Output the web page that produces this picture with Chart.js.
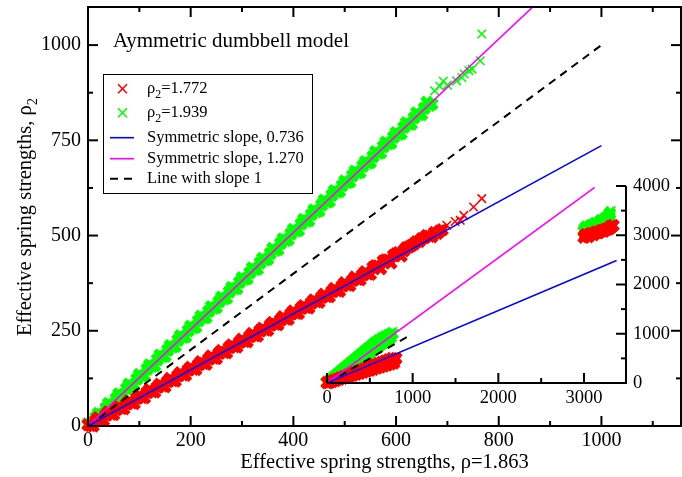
<!DOCTYPE html>
<html lang="en">

<head>
    <meta charset="UTF-8">
    <title>Aymmetric dumbbell model</title>
    <script src="https://cdn.jsdelivr.net/npm/chart.js@4"></script>
    <style>
        body {
            margin: 0;
            background: #fff;
        }

        #wrap {
            position: relative;
            width: 682px;
            height: 477px;
        }

        #wrap canvas {
            position: absolute;
            left: 0;
            top: 0;
        }
    </style>
</head>

<body>
    <div id="wrap">
        <canvas id="mainChart" width="682" height="477"></canvas>
        <canvas id="insetChart" width="682" height="477"></canvas>
    </div>

    <script>
        // ---- main panel: rho2 = 1.772 (red), band edges + outliers ----
        const redX = [0, 10, 20, 30, 40, 50, 60, 70, 80, 90, 100, 110, 120, 130, 140, 150, 160, 170, 180, 190,
            200, 210, 220, 230, 240, 250, 260, 270, 280, 290, 300, 310, 320, 330, 340, 350, 360, 370, 380, 390,
            400, 410, 420, 430, 440, 450, 460, 470, 480, 490, 500, 510, 520, 530, 540, 550, 560, 570, 580, 590,
            600, 610, 620, 630, 640, 650, 660, 670, 680, 690, 699, 715, 725, 732, 751, 767];
        const redY = [3, 0, 22, 15, 37, 30, 51, 45, 66, 59, 81, 74, 96, 89, 110, 103, 125, 118, 140, 133,
            154, 148, 169, 162, 184, 177, 198, 192, 213, 207, 228, 221, 243, 236, 257, 251, 272, 266, 287, 280,
            302, 295, 316, 310, 331, 325, 346, 339, 361, 354, 376, 369, 391, 384, 405, 398, 421, 413, 436, 428,
            452, 446, 468, 474, 484, 492, 500, 497, 505, 515, 527, 537, 540, 553, 575, 597];
        // band centre
        const redMidX = [5, 15, 25, 35, 45, 55, 65, 75, 85, 95, 105, 115, 125, 135, 145, 155, 165, 175, 185, 195,
            205, 215, 225, 235, 245, 255, 265, 275, 285, 295, 305, 315, 325, 335, 345, 355, 365, 375, 385, 395,
            405, 415, 425, 435, 445, 455, 465, 475, 485, 495, 505, 515, 525, 535, 545, 555, 565, 575, 585, 595,
            605, 615, 625, 635, 645, 655, 665, 675, 685];
        const redMidY = [1, 14, 16, 29, 31, 43, 46, 58, 60, 73, 75, 88, 90, 102, 105, 117, 119, 132, 134, 147,
            149, 161, 164, 176, 178, 191, 193, 206, 208, 220, 222, 235, 237, 250, 252, 265, 267, 279, 281, 294,
            296, 309, 311, 323, 326, 338, 340, 353, 355, 368, 370, 382, 385, 397, 399, 416, 420, 433, 436, 448,
            455, 460, 470, 478, 484, 494, 498, 508, 512];

        // ---- main panel: rho2 = 1.939 (green) ----
        const greenX = [0, 10, 20, 30, 40, 50, 60, 70, 80, 90, 100, 110, 120, 130, 140, 150, 160, 170, 180, 190,
            200, 210, 220, 230, 240, 250, 260, 270, 280, 290, 300, 310, 320, 330, 340, 350, 360, 370, 380, 390,
            400, 410, 420, 430, 440, 450, 460, 470, 480, 490, 500, 510, 520, 530, 540, 550, 560, 570, 580, 590,
            600, 610, 620, 630, 640, 650, 660, 670, 675, 685, 692, 700, 718, 728, 733, 742, 748, 764, 767];
        const greenY = [6, 8, 33, 31, 59, 56, 84, 82, 110, 107, 135, 132, 160, 158, 186, 183, 211, 209, 237, 234,
            262, 260, 288, 285, 313, 311, 338, 336, 364, 361, 389, 387, 415, 412, 440, 438, 466, 463, 491, 489,
            516, 514, 542, 539, 567, 565, 593, 590, 618, 616, 643, 641, 669, 666, 694, 692, 720, 717, 745, 743,
            770, 768, 796, 793, 822, 818, 850, 845, 880, 892, 905, 895, 906, 915, 924, 933, 937, 959, 1029];
        const greenMidX = [5, 15, 25, 35, 45, 55, 65, 75, 85, 95, 105, 115, 125, 135, 145, 155, 165, 175, 185, 195,
            205, 215, 225, 235, 245, 255, 265, 275, 285, 295, 305, 315, 325, 335, 345, 355, 365, 375, 385, 395,
            405, 415, 425, 435, 445, 455, 465, 475, 485, 495, 505, 515, 525, 535, 545, 555, 565, 575, 585, 595,
            605, 615, 625, 635, 645, 655, 665];
        const greenMidY = [4, 22, 30, 47, 55, 72, 80, 98, 106, 123, 131, 149, 157, 174, 182, 199, 207, 225, 233, 250,
            258, 276, 284, 301, 309, 326, 334, 352, 360, 377, 385, 402, 411, 428, 436, 453, 461, 479, 487, 504,
            512, 530, 538, 555, 563, 580, 588, 606, 614, 631, 639, 657, 665, 682, 690, 707, 716, 733, 741, 758,
            766, 784, 792, 809, 817, 834, 842];

        // reference lines (end points)
        const blueX = [0, 1000], blueY = [0, 736];
        const magentaX = [0, 1000], magentaY = [0, 1270];
        const unitX = [0, 1000], unitY = [0, 1000];

        // ---- inset panel ----
        const insetRedX = [0, 20, 40, 60, 80, 100, 120, 140, 160, 180, 200, 220, 240, 260, 280, 300, 320, 340, 360, 380,
            400, 420, 440, 460, 480, 500, 520, 540, 560, 580, 600, 620, 640, 660, 680, 700, 720, 740, 760, 780, 790, 805,
            3000, 3010, 3020, 3035, 3050, 3050, 3065, 3080, 3095, 3110, 3125, 3140, 3155, 3170, 3185, 3200, 3215,
            3230, 3245, 3260, 3275, 3290, 3305, 3310, 3320, 3330, 3340];
        const insetRedY = [5, 10, 26, 31, 53, 52, 79, 73, 106, 94, 132, 114, 158, 135, 185, 156, 211, 177, 238, 198,
            264, 218, 290, 239, 317, 260, 343, 281, 370, 302, 396, 322, 422, 343, 449, 364, 475, 385, 500, 406, 470, 500,
            2960, 2990, 3010, 3000, 2970, 2990, 3020, 3030, 3030, 3010, 3045, 3060, 3060, 3050, 3075, 3090, 3095,
            3080, 3110, 3120, 3125, 3130, 3150, 3180, 3170, 3185, 3200];
        const insetGreenX = [0, 20, 40, 60, 80, 100, 120, 140, 160, 180, 200, 220, 240, 260, 280, 300, 320, 340, 360, 380,
            400, 420, 440, 460, 480, 500, 520, 540, 560, 580, 600, 620, 640, 660, 680, 700, 720, 740, 750, 786, 770,
            3000, 3005, 3010, 3025, 3040, 3050, 3060, 3075, 3090, 3100, 3110, 3125, 3140, 3155, 3170, 3185, 3200,
            3215, 3220, 3235, 3250, 3265, 3270, 3285, 3290, 3300, 3315];
        const insetGreenY = [20, 25, 58, 75, 116, 125, 174, 175, 232, 225, 290, 275, 348, 325, 406, 375, 464, 425, 522, 475,
            580, 525, 638, 575, 696, 625, 754, 675, 812, 725, 860, 775, 900, 825, 940, 875, 970, 925, 990, 1010, 1045,
            3070, 3100, 3130, 3170, 3150, 3120, 3110, 3190, 3200, 3150, 3160, 3230, 3240, 3190, 3210, 3270, 3300,
            3230, 3260, 3310, 3340, 3280, 3310, 3350, 3390, 3440, 3500];
        const insetBlueX = [0, 3380], insetBlueY = [0, 2488];
        const insetMagentaX = [0, 3125], insetMagentaY = [0, 3970];
        const insetUnitX = [0, 960], insetUnitY = [0, 960];

        // ticks
        const mainXTicks = [0, 200, 400, 600, 800, 1000];
        const mainXMinor = [100, 300, 500, 700, 900, 1100];
        const mainYTicks = [0, 250, 500, 750, 1000];
        const mainYMinor = [125, 375, 625, 875];
        const insetXTicks = [0, 1000, 2000, 3000];
        const insetXMinor = [500, 1500, 2500];
        const insetYTicks = [0, 1000, 2000, 3000, 4000];
        const insetYMinor = [500, 1500, 2500, 3500];

        const serif = "'Liberation Serif', 'DejaVu Serif', serif";
        const toPts = (xs, ys) => xs.map((x, i) => ({ x: x, y: ys[i] }));

        // text with "_2" style subscripts
        function drawRich(ctx, text, x, y, size, align) {
            const segs = [];
            text.split('_').forEach((part, i) => {
                if (i === 0) { segs.push({ t: part, sub: false }); return; }
                segs.push({ t: part[0], sub: true });
                segs.push({ t: part.slice(1), sub: false });
            });
            let total = 0;
            segs.forEach(s => {
                ctx.font = (s.sub ? size * 0.72 : size) + 'px ' + serif;
                s.w = ctx.measureText(s.t).width;
                total += s.w;
            });
            let cx = align === 'center' ? x - total / 2 : x;
            ctx.textAlign = 'left';
            ctx.textBaseline = 'alphabetic';
            segs.forEach(s => {
                ctx.font = (s.sub ? size * 0.72 : size) + 'px ' + serif;
                ctx.fillText(s.t, cx, s.sub ? y + size * 0.3 : y);
                cx += s.w;
            });
        }

        function line(ctx, x1, y1, x2, y2) {
            ctx.beginPath();
            ctx.moveTo(x1, y1);
            ctx.lineTo(x2, y2);
            ctx.stroke();
        }

        const mainDecor = {
            id: 'mainDecor',
            afterDraw(chart) {
                const { ctx, chartArea: a, scales: { x, y } } = chart;
                ctx.save();
                ctx.strokeStyle = '#000';
                ctx.fillStyle = '#000';
                ctx.lineWidth = 2;
                ctx.strokeRect(a.left, a.top, a.right - a.left, a.bottom - a.top);

                [[mainXTicks, 10], [mainXMinor, 5]].forEach(([vals, len]) => vals.forEach(v => {
                    const px = x.getPixelForValue(v);
                    line(ctx, px, a.bottom, px, a.bottom - len);
                    line(ctx, px, a.top, px, a.top + len);
                }));
                [[mainYTicks, 10], [mainYMinor, 5]].forEach(([vals, len]) => vals.forEach(v => {
                    const py = y.getPixelForValue(v);
                    line(ctx, a.left, py, a.left + len, py);
                    line(ctx, a.right, py, a.right - len, py);
                }));

                // annotation
                ctx.font = '21px ' + serif;
                ctx.textAlign = 'left';
                ctx.textBaseline = 'alphabetic';
                ctx.fillText('Aymmetric dumbbell model', 113, 47);

                // y axis title
                ctx.save();
                ctx.translate(31, 217);
                ctx.rotate(-Math.PI / 2);
                drawRich(ctx, 'Effective spring strengths, ρ_2', 0, 0, 20.5, 'center');
                ctx.restore();

                // legend
                const box = { l: 103, t: 74, r: 312, b: 193 };
                const rows = [92.7, 116.7, 141.7, 162.7, 182.7];
                ctx.fillStyle = '#fff';
                ctx.fillRect(box.l, box.t, box.r - box.l, box.b - box.t);
                ctx.lineWidth = 1;
                ctx.strokeStyle = '#000';
                ctx.strokeRect(box.l + 0.5, box.t + 0.5, box.r - box.l, box.b - box.t);
                chart.data.datasets.forEach((ds, i) => {
                    const by = rows[i];
                    const my = by - 4;
                    ctx.strokeStyle = ds.borderColor;
                    if (ds.showLine) {
                        ctx.lineWidth = ds.borderWidth;
                        ctx.setLineDash(ds.borderDash || []);
                        line(ctx, 110, my, 134, my);
                        ctx.setLineDash([]);
                    } else {
                        ctx.lineWidth = 1.6;
                        line(ctx, 118, my - 4.5, 127, my + 4.5);
                        line(ctx, 118, my + 4.5, 127, my - 4.5);
                    }
                    ctx.fillStyle = '#000';
                    drawRich(ctx, ds.label, 147, by, 16.5, 'left');
                });
                ctx.restore();
            }
        };

        const insetDecor = {
            id: 'insetDecor',
            afterDraw(chart) {
                const { ctx, chartArea: a, scales: { x, y } } = chart;
                ctx.save();
                ctx.strokeStyle = '#000';
                ctx.lineWidth = 2;
                line(ctx, a.left, a.bottom, a.right + 1, a.bottom);
                line(ctx, a.right, a.bottom, a.right, a.top);
                [[insetXTicks, 10], [insetXMinor, 5]].forEach(([vals, len]) => vals.forEach(v => {
                    const px = x.getPixelForValue(v);
                    line(ctx, px, a.bottom, px, a.bottom - len);
                }));
                [[insetYTicks, 10], [insetYMinor, 5]].forEach(([vals, len]) => vals.forEach(v => {
                    const py = y.getPixelForValue(v);
                    line(ctx, a.right, py, a.right - len, py);
                }));
                ctx.restore();
            }
        };

        // points inside the packed band (isDense) get bigger, heavier crosses
        const scatterSet = (label, pts, color, isDense) => ({
            label: label,
            data: pts,
            pointStyle: 'crossRot',
            pointRadius: c => (c.raw && isDense(c.raw) ? 7 : 6),
            pointHoverRadius: 6,
            borderColor: color,
            backgroundColor: color,
            borderWidth: c => (c.raw && isDense(c.raw) ? 5 : 1.6),
            order: 2,
            clip: 8
        });
        const lineSet = (label, pts, color, dash) => ({
            label: label,
            data: pts,
            showLine: true,
            pointRadius: 0,
            borderColor: color,
            borderWidth: dash ? 2 : 1.6,
            borderDash: dash,
            order: 1
        });

        const tickFont = (size, pad) => ({
            color: '#000', font: { family: serif, size: size }, padding: pad,
            maxRotation: 0, autoSkip: false, callback: v => String(v)
        });
        const noGrid = { display: false, drawTicks: false };

        new Chart(document.getElementById('mainChart'), {
            type: 'scatter',
            data: {
                datasets: [
                    scatterSet('ρ_2=1.772', toPts(redX.concat(redMidX), redY.concat(redMidY)), '#ff0000', p => p.x <= 690),
                    scatterSet('ρ_2=1.939', toPts(greenX.concat(greenMidX), greenY.concat(greenMidY)), '#00ff00', p => p.x <= 670),
                    lineSet('Symmetric slope, 0.736', toPts(blueX, blueY), '#0000ff'),
                    lineSet('Symmetric slope, 1.270', toPts(magentaX, magentaY), '#ff00ff'),
                    lineSet('Line with slope 1', toPts(unitX, unitY), '#000000', [8, 6])
                ]
            },
            options: {
                responsive: false,
                animation: false,
                events: [],
                layout: { autoPadding: false, padding: { top: 7, right: 1, left: 0, bottom: 0 } },
                plugins: { legend: { display: false }, tooltip: { enabled: false } },
                scales: {
                    x: {
                        type: 'linear',
                        min: 0,
                        max: 1155,
                        grid: noGrid,
                        border: { display: false },
                        afterBuildTicks: s => { s.ticks = mainXTicks.map(v => ({ value: v })); },
                        afterFit: s => { s.height = 51; s.paddingLeft = 0; s.paddingRight = 0; },
                        ticks: tickFont(20, 3),
                        title: {
                            display: true,
                            text: 'Effective spring strengths, ρ=1.863',
                            color: '#000',
                            font: { family: serif, size: 20.5 },
                            padding: { top: 0, bottom: 2 }
                        }
                    },
                    y: {
                        type: 'linear',
                        min: 0,
                        max: 1100,
                        grid: noGrid,
                        border: { display: false },
                        afterBuildTicks: s => { s.ticks = mainYTicks.map(v => ({ value: v })); },
                        afterFit: s => { s.width = 88; s.paddingTop = 0; s.paddingBottom = 0; },
                        ticks: tickFont(20, 7)
                    }
                }
            },
            plugins: [mainDecor]
        });

        new Chart(document.getElementById('insetChart'), {
            type: 'scatter',
            data: {
                datasets: [
                    scatterSet('ρ_2=1.772', toPts(insetRedX, insetRedY), '#ff0000', p => true),
                    scatterSet('ρ_2=1.939', toPts(insetGreenX, insetGreenY), '#00ff00', p => p.x <= 750 || (p.x >= 2900 && p.x < 3310)),
                    lineSet('Symmetric slope, 0.736', toPts(insetBlueX, insetBlueY), '#0000ff'),
                    lineSet('Symmetric slope, 1.270', toPts(insetMagentaX, insetMagentaY), '#ff00ff'),
                    lineSet('Line with slope 1', toPts(insetUnitX, insetUnitY), '#000000', [8, 6])
                ]
            },
            options: {
                responsive: false,
                animation: false,
                events: [],
                layout: { autoPadding: false, padding: { top: 186, right: 0, left: 327, bottom: 64 } },
                plugins: { legend: { display: false }, tooltip: { enabled: false } },
                scales: {
                    x: {
                        type: 'linear',
                        min: 0,
                        max: 3490,
                        grid: noGrid,
                        border: { display: false },
                        afterBuildTicks: s => { s.ticks = insetXTicks.map(v => ({ value: v })); },
                        afterFit: s => { s.height = 30; s.paddingLeft = 0; s.paddingRight = 0; },
                        ticks: tickFont(18.5, 4)
                    },
                    y: {
                        type: 'linear',
                        position: 'right',
                        min: 0,
                        max: 4000,
                        grid: noGrid,
                        border: { display: false },
                        afterBuildTicks: s => { s.ticks = insetYTicks.map(v => ({ value: v })); },
                        afterFit: s => { s.width = 56; s.paddingTop = 0; s.paddingBottom = 0; },
                        ticks: tickFont(18.5, 7)
                    }
                }
            },
            plugins: [insetDecor]
        });
    </script>
</body>

</html>
